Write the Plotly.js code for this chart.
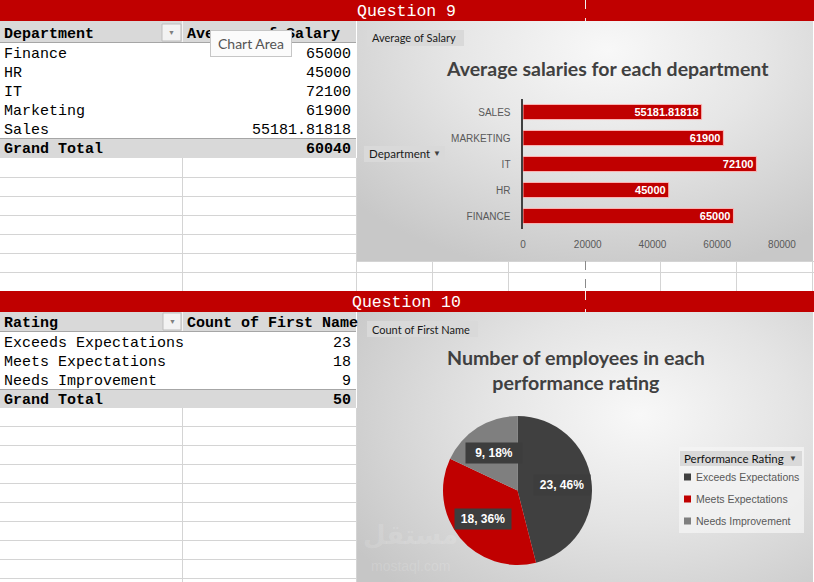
<!DOCTYPE html>
<html>
<head>
<meta charset="utf-8">
<script src="https://cdn.plot.ly/plotly-3.0.1.min.js"></script>
<style>
html,body{margin:0;padding:0;background:#fff;width:814px;height:582px;overflow:hidden}
#bg1{position:absolute;left:357px;top:21px;width:456px;height:240px;
  background:radial-gradient(ellipse 75% 95% at 55% 12%, #f8f8f8 0%, #e6e6e6 45%, #c8c8c8 100%);}
#bg2{position:absolute;left:357px;top:312px;width:456px;height:270px;
  background:radial-gradient(ellipse 75% 90% at 62% 38%, #f8f8f8 0%, #e4e4e4 45%, #c6c6c6 100%);}
#plot{position:absolute;left:0;top:0;width:814px;height:582px}
</style>
</head>
<body>
<div id="bg1"></div>
<div id="bg2"></div>
<div id="plot"></div>
<script>
// ---------------- DATA ----------------
const departments = ["Finance", "HR", "IT", "Marketing", "Sales"];
const avgSalary = [65000, 45000, 72100, 61900, 55181.81818];
const salaryGrandTotal = 60040;
const salaryTicks = [0, 20000, 40000, 60000, 80000];

const ratings = ["Exceeds Expectations", "Meets Expectations", "Needs Improvement"];
const ratingCounts = [23, 18, 9];
const ratingGrandTotal = 50;
const ratingColors = ["#404040", "#c00000", "#7f7f7f"];

// ---------------- HELPERS ----------------
const W = 814, H = 582;
const X = p => p / W;
const Y = p => 1 - p / H;
const MONO = "Courier New, Liberation Mono, monospace";
const SANS = "Liberation Sans, Arial, sans-serif";
const CAL = "Lato, Liberation Sans, sans-serif";
const GRID = "#d4d4d4";

const shapes = [];
const annotations = [];
function rect(x0, y0, x1, y1, fill, lineColor, lw) {
  shapes.push({type: "rect", xref: "paper", yref: "paper", x0: X(x0), x1: X(x1), y0: Y(y1), y1: Y(y0),
    fillcolor: fill, line: {color: lineColor || "rgba(0,0,0,0)", width: lineColor ? (lw || 1) : 0}, layer: "below"});
}
function hline(y, x0, x1, color, dash) {
  shapes.push({type: "line", xref: "paper", yref: "paper", x0: X(x0), x1: X(x1), y0: Y(y), y1: Y(y),
    line: {color: color, width: 1, dash: dash || "solid"}, layer: "below"});
}
function vline(x, y0, y1, color, dash) {
  shapes.push({type: "line", xref: "paper", yref: "paper", x0: X(x), x1: X(x), y0: Y(y0), y1: Y(y1),
    line: {color: color, width: 1, dash: dash || "solid"}, layer: "below"});
}
function txt(text, x, y, o) {
  o = o || {};
  const a = {text: text, x: X(x), y: Y(y), xref: "paper", yref: "paper", showarrow: false,
    xanchor: o.xanchor || "left", yanchor: o.yanchor || "middle", borderpad: 0,
    font: {family: o.family || MONO, size: o.size || 15, color: o.color || "#000", weight: o.weight || 400}};
  if (o.bgcolor) a.bgcolor = o.bgcolor;
  if (o.bordercolor) { a.bordercolor = o.bordercolor; a.borderwidth = 1; }
  if (o.borderpad !== undefined) a.borderpad = o.borderpad;
  if (o.width) a.width = o.width;
  if (o.height) a.height = o.height;
  if (o.align) a.align = o.align;
  annotations.push(a);
}

// ---------------- SPREADSHEET BACKDROP ----------------
rect(0, 0, 814, 21, "#c00000");
rect(0, 291, 814, 312, "#c00000");
vline(585.5, 0, 21, "#f0f0f0", "dash");
vline(585.5, 291, 312, "#f0f0f0", "dash");
txt("Question 9", 406, 11.5, {xanchor: "center", size: 16.5, color: "#fff"});
txt("Question 10", 406, 302.5, {xanchor: "center", size: 16.5, color: "#fff"});

// grid below table 1
[177.5, 196.5, 215.5, 234.5, 253.5].forEach(y => hline(y, 0, 356, GRID));
hline(272.5, 0, 814, GRID);
hline(261.5, 357, 814, GRID);
vline(182.5, 158, 291, GRID);
vline(356.5, 158, 291, GRID);
[432.5, 508.5, 660.5, 736.5, 812.5].forEach(x => vline(x, 261, 291, GRID));
vline(585.5, 261, 291, "#8a8a8a", "dash");

// grid below table 2
[426.5, 445.5, 464.5, 483.5, 502.5, 521.5, 540.5, 559.5, 578.5].forEach(y => hline(y, 0, 356, GRID));
vline(182.5, 408, 582, GRID);
vline(356.5, 408, 582, GRID);

// ---------------- TABLE 1 ----------------
rect(0, 21, 356, 42, "#d9d9d9");
vline(182.5, 21, 42, "#f4f4f4");
hline(42.5, 0, 356, "#a6a6a6");
rect(162, 24, 181, 41, "#f2f2f2", "#bdbdbd");
txt("▼", 171.5, 32.5, {xanchor: "center", family: SANS, size: 7, color: "#7f7f7f"});
txt("Department", 3, 34, {weight: 700});
txt("Average of Salary", 186, 34, {weight: 700});
departments.forEach((d, i) => {
  txt(d, 3, 54 + 19 * i);
  txt(String(avgSalary[i]), 352, 54 + 19 * i, {xanchor: "right"});
});
rect(0, 138, 356, 158, "#d9d9d9");
hline(138.5, 0, 356, "#a6a6a6");
txt("Grand Total", 3, 149.5, {weight: 700});
txt(String(salaryGrandTotal), 352, 149.5, {xanchor: "right", weight: 700});

// ---------------- TABLE 2 ----------------
rect(0, 312, 356, 331, "#d9d9d9");
vline(182.5, 312, 331, "#f4f4f4");
hline(331.5, 0, 356, "#a6a6a6");
rect(163, 313, 181, 330, "#f2f2f2", "#bdbdbd");
txt("▼", 172, 321.5, {xanchor: "center", family: SANS, size: 7, color: "#7f7f7f"});
txt("Rating", 3, 323.5, {weight: 700});
txt("Count of First Name", 186, 323.5, {weight: 700});
ratings.forEach((r, i) => {
  txt(r, 3, 343 + 19 * i);
  txt(String(ratingCounts[i]), 352, 343 + 19 * i, {xanchor: "right"});
});
rect(0, 389, 356, 408, "#d9d9d9");
hline(389.5, 0, 356, "#a6a6a6");
txt("Grand Total", 3, 400, {weight: 700});
txt(String(ratingGrandTotal), 352, 400, {xanchor: "right", weight: 700});

// ---------------- CHART 1 decorations ----------------
rect(367, 30, 464, 46, "#d9d9d9");
txt("Average of Salary", 371, 38, {family: CAL, size: 11, color: "#1a1a1a"});
rect(364, 146, 445, 162, "#d9d9d9");
txt("Department", 368, 154, {family: CAL, size: 11.5, color: "#1a1a1a"});
txt("▼", 437, 154, {xanchor: "center", family: SANS, size: 8, color: "#404040"});
txt("Average salaries for each department", 607, 68, {xanchor: "center", family: CAL, size: 19.5, weight: 700, color: "#404040"});

// ---------------- CHART 2 decorations ----------------
rect(367, 321, 478, 337, "#d9d9d9");
txt("Count of First Name", 371, 329, {family: CAL, size: 11, color: "#1a1a1a"});
txt("Number of employees in each<br>performance rating", 576, 370, {xanchor: "center", family: CAL, size: 19.6, weight: 700, color: "#404040"});
// faint watermark
txt("مستقل", 410, 534, {xanchor: "center", family: "Noto Sans, DejaVu Sans", size: 26, weight: 700, color: "rgba(255,255,255,0.15)"});
txt("mostaql.com", 410, 566, {xanchor: "center", family: SANS, size: 14, color: "rgba(255,255,255,0.15)"});

// legend (built from the rating arrays)
rect(679, 447, 804, 533, "rgba(244,244,244,0.75)");
rect(680, 451, 802, 466, "#d9d9d9");
txt("Performance Rating", 683, 458.5, {family: CAL, size: 11.5, color: "#111"});
txt("▼", 793, 458.5, {xanchor: "center", family: SANS, size: 8, color: "#404040"});
ratings.forEach((r, i) => {
  const cy = 477 + 22 * i;
  rect(684, cy - 3.5, 691, cy + 3.5, ratingColors[i]);
  txt(r, 695, cy, {family: SANS, size: 10.5, color: "#595959"});
});

// pie labels (positioned from the data: mid-angle of each slice)
const pieCx = 517.5, pieCy = 490.5, pieR = 74.5;
const total = ratingCounts.reduce((a, b) => a + b, 0);
let cum = 0;
ratingCounts.forEach((v, i) => {
  const mid = (cum + v / 2) / total * 2 * Math.PI;
  cum += v;
  const f = 0.6;
  const lx = pieCx + f * pieR * Math.sin(mid);
  const ly = pieCy - f * pieR * Math.cos(mid);
  txt(v + ", " + Math.round(v / total * 100) + "%", lx, ly,
      {xanchor: "center", family: SANS, size: 12, weight: 700, color: "#fff",
       bgcolor: "#3d3d3d", borderpad: 3, width: 50});
});

// "Chart Area" tooltip
txt("Chart Area", 251, 43.5, {xanchor: "center", family: CAL, size: 14, color: "#555",
    bgcolor: "#fbfbfb", bordercolor: "#c6c6c6", borderpad: 4, width: 72});

// ---------------- TRACES ----------------
const barTrace = {
  type: "bar", orientation: "h",
  y: departments, x: avgSalary,
  text: avgSalary.map(String), textposition: "inside", insidetextanchor: "end",
  constraintext: "none",
  textfont: {family: SANS, size: 11, color: "#fff", weight: 700},
  marker: {color: "#c00000", line: {color: "rgba(255,190,190,0.9)", width: 1}},
  xaxis: "x", yaxis: "y", showlegend: false, hoverinfo: "skip"
};

const pieTrace = {
  type: "pie", labels: ratings, values: ratingCounts,
  sort: false, direction: "clockwise", rotation: 0,
  marker: {colors: ratingColors, line: {width: 0}},
  textinfo: "none", hoverinfo: "skip", showlegend: false,
  domain: {x: [X(pieCx - pieR), X(pieCx + pieR)], y: [Y(pieCy + pieR), Y(pieCy - pieR)]}
};

const layout = {
  width: W, height: H,
  margin: {l: 0, r: 0, t: 0, b: 0},
  paper_bgcolor: "rgba(0,0,0,0)", plot_bgcolor: "rgba(0,0,0,0)",
  hovermode: false,
  bargap: 0.42,
  showlegend: false,
  xaxis: {domain: [X(523), X(782)], range: [0, 80000], tickmode: "array", tickvals: salaryTicks,
    ticktext: salaryTicks.map(String),
    showgrid: false, zeroline: false, showline: false, ticks: "", ticklabelstandoff: 8,
    tickfont: {family: SANS, size: 10, color: "#595959"}, fixedrange: true, anchor: "y"},
  yaxis: {domain: [Y(229), Y(99)], type: "category", categoryorder: "array", categoryarray: departments,
    tickmode: "array", tickvals: departments, ticktext: departments.map(d => d.toUpperCase()),
    showgrid: false, zeroline: false, showline: true, linecolor: "#404040", linewidth: 2.5, ticks: "",
    ticklabelstandoff: 8, tickfont: {family: SANS, size: 10, color: "#595959"}, fixedrange: true, anchor: "x"},
  shapes: shapes,
  annotations: annotations
};

Plotly.newPlot("plot", [barTrace, pieTrace], layout, {displayModeBar: false, staticPlot: true});
</script>
</body>
</html>
